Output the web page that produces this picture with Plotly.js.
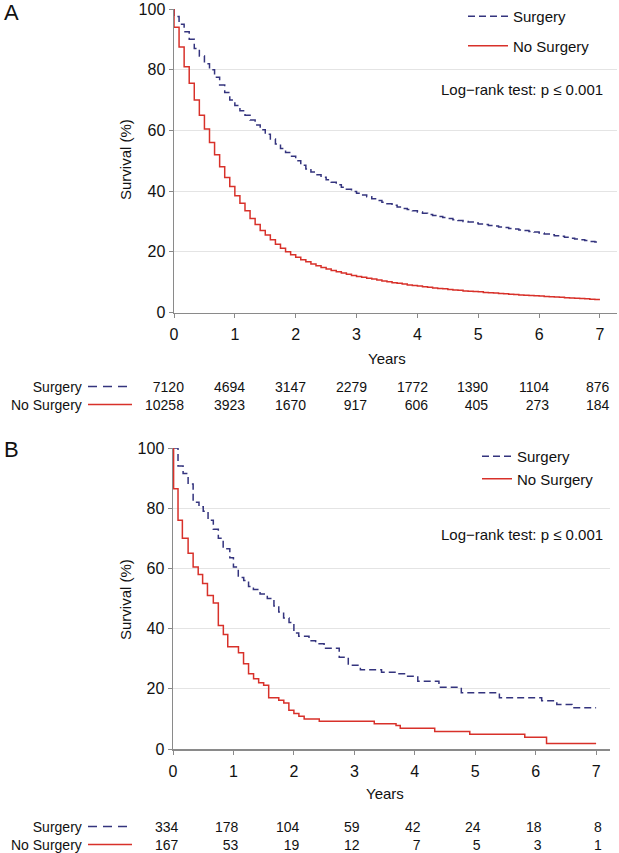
<!DOCTYPE html>
<html>
<head>
<meta charset="utf-8">
<script src="https://cdn.plot.ly/plotly-3.0.1.min.js"></script>
<style>
  body { margin: 0; background: #fff; }
  #km { width: 619px; height: 853px; }
</style>
</head>
<body>
<div id="km"></div>
<script>
// Panel A: monthly KM estimates (%), month 0..84
let survSurgA = [
  100, 97.5, 95, 92.5, 90, 87, 84.5, 82, 80, 77.5, 75, 72.5, 70,
  68.2, 66.5, 65, 63.4, 61.8, 60.2, 58.7, 57.2, 55.5, 54, 52.7, 51.5,
  50, 48.5, 47.3, 46.3, 45.4, 44.6, 43.7, 42.9, 42.1, 41.3, 40.6, 39.9,
  39.3, 38.7, 38.1, 37.5, 36.9, 36.3, 35.8, 35.3, 34.8, 34.3, 33.9, 33.5,
  33.1, 32.7, 32.3, 32, 31.6, 31.3, 31, 30.6, 30.3, 30, 29.8, 29.5,
  29.2, 29, 28.7, 28.5, 28.2, 28, 27.7, 27.5, 27.2, 27, 26.7, 26.5,
  26.2, 25.9, 25.6, 25.3, 25.1, 24.8, 24.5, 24.2, 24, 23.7, 23.4, 23.2
];
let survNoSurgA = [
  100, 94, 87.5, 81, 75.5, 70, 65, 60.5, 56, 52, 48, 44.5, 41.5,
  38.5, 36, 33.5, 31, 29, 27, 25.5, 24, 22.5, 21.2, 20, 19,
  18.2, 17.4, 16.7, 16, 15.4, 14.8, 14.3, 13.8, 13.4, 13, 12.6, 12.2,
  11.9, 11.6, 11.3, 11, 10.7, 10.4, 10.1, 9.8, 9.6, 9.4, 9.1, 8.9,
  8.7, 8.5, 8.3, 8.1, 7.9, 7.8, 7.6, 7.4, 7.3, 7.1, 7, 6.9,
  6.8, 6.6, 6.5, 6.4, 6.3, 6.2, 6, 5.9, 5.8, 5.7, 5.6, 5.5,
  5.4, 5.3, 5.2, 5.1, 5, 4.9, 4.8, 4.7, 4.6, 4.5, 4.4, 4.3
];

// Panel B: event times (years) and survival (%) after each step
let timeSurgB = [0, 0.083, 0.167, 0.25, 0.333, 0.43, 0.5, 0.58, 0.667, 0.75, 0.83, 0.94, 1.0, 1.08,
  1.17, 1.25, 1.33, 1.44, 1.56, 1.67, 1.75, 1.83, 1.92, 2.0, 2.08, 2.25, 2.36, 2.5, 2.75, 2.9,
  3.1, 3.45, 3.7, 3.85, 4.05, 4.4, 4.77, 5.4, 6.1, 6.35, 6.6, 7.0];
let survSurgB = [100, 94, 91.5, 88, 82, 80.5, 79, 76, 73, 70, 66.5, 63.5, 60.5, 57,
  56, 54, 53, 51.5, 50, 47.5, 45.5, 43.5, 42, 38.5, 37.5, 36, 35, 33.5, 30.5, 27.8,
  26.3, 25.5, 25, 24.2, 22.5, 20.5, 18.7, 17, 16, 14.8, 13.7, 13.7];
let timeNoSurgB = [0, 0.01, 0.083, 0.155, 0.25, 0.333, 0.417, 0.49, 0.57, 0.667, 0.75, 0.833, 0.906,
  1.083, 1.167, 1.25, 1.333, 1.417, 1.5, 1.583, 1.75, 1.833, 1.917, 2.0, 2.083, 2.17, 2.42,
  3.33, 3.69, 3.76, 4.33, 4.91, 5.82, 6.18, 7.0];
let survNoSurgB = [100, 86.5, 76, 70, 65, 60.5, 58, 55, 51, 48.5, 41, 38, 34,
  32, 28.3, 25, 23.3, 22, 21.2, 17, 16.2, 15.3, 12.9, 11.8, 10.9, 10, 9.2,
  8.4, 7.8, 6.9, 5.8, 4.9, 3.9, 1.8, 1.8];

// numbers at risk
let yearTicks = [0, 1, 2, 3, 4, 5, 6, 7];
let riskSurgA = [7120, 4694, 3147, 2279, 1772, 1390, 1104, 876];
let riskNoSurgA = [10258, 3923, 1670, 917, 606, 405, 273, 184];
let riskSurgB = [334, 178, 104, 59, 42, 24, 18, 8];
let riskNoSurgB = [167, 53, 19, 12, 7, 5, 3, 1];

const W = 619, H = 853;
const px = (x) => x / W;
const py = (y) => 1 - y / H;

const navy = "#34347e";
const red = "#d8312a";
const fontFam = "Liberation Sans, Arial, Helvetica, sans-serif";
const monthsA = survSurgA.map((v, i) => i / 12);
const riskFont = 14;
const rowGap = riskFont * 1.3;

let data = [
  { x: monthsA, y: survSurgA, name: "Surgery", legend: "legend", legendgroup: "a1",
    mode: "lines", line: { shape: "vh", color: navy, width: 1.5, dash: "7px,4px" }, xaxis: "x", yaxis: "y" },
  { x: monthsA, y: survNoSurgA, name: "No Surgery", legend: "legend", legendgroup: "a2",
    mode: "lines", line: { shape: "vh", color: red, width: 1.5 }, xaxis: "x", yaxis: "y" },
  { x: timeSurgB, y: survSurgB, name: "Surgery", legend: "legend2", legendgroup: "b1",
    mode: "lines", line: { shape: "hv", color: navy, width: 1.5, dash: "7px,4px" }, xaxis: "x2", yaxis: "y2" },
  { x: timeNoSurgB, y: survNoSurgB, name: "No Surgery", legend: "legend2", legendgroup: "b2",
    mode: "lines", line: { shape: "hv", color: red, width: 1.5 }, xaxis: "x2", yaxis: "y2" }
];

function xAxis(dom, rng, anchor) {
  return {
    domain: dom, range: rng, anchor: anchor, tickvals: yearTicks,
    ticks: "outside", ticklen: 4, tickcolor: "#8a8a8a", tickwidth: 1, ticklabelstandoff: 3,
    showline: true, linecolor: "#8a8a8a", linewidth: 1.5,
    showgrid: false, zeroline: false, tickfont: { size: 16 }, fixedrange: true
  };
}
function yAxis(dom, anchor) {
  return {
    domain: dom, range: [0, 100], anchor: anchor, tickvals: [0, 20, 40, 60, 80, 100],
    ticks: "outside", ticklen: 4, tickcolor: "#8a8a8a", tickwidth: 1, ticklabeloverflow: "allow",
    showline: true, linecolor: "#8a8a8a", linewidth: 1.5,
    showgrid: true, gridcolor: "#e4e4e4", gridwidth: 1, zeroline: false,
    tickfont: { size: 16 }, fixedrange: true
  };
}

let annotations = [];
let shapes = [];

function panel(letter, xref, top, yTitleY, yearsY, logY, rowMid, surg, noSurg, off) {
  let row1 = rowMid - rowGap / 2, row2 = rowMid + rowGap / 2;
  annotations.push({ text: letter, xref: "paper", yref: "paper", x: px(2), y: py(top), xanchor: "left", yanchor: "middle",
    showarrow: false, font: { size: 22 } });
  annotations.push({ text: "Survival (%)", xref: "paper", yref: "paper", x: px(125), y: py(yTitleY), textangle: -90,
    xanchor: "center", yanchor: "middle", showarrow: false, font: { size: 15 } });
  annotations.push({ text: "Years", xref: xref, yref: "paper", x: 3.5, y: py(yearsY), xanchor: "center", yanchor: "middle",
    showarrow: false, font: { size: 15 } });
  annotations.push({ text: "Log\u2212rank test: p \u2264 0.001", xref: "paper", yref: "paper", x: px(605), y: py(logY),
    xanchor: "right", yanchor: "middle", showarrow: false, font: { size: 15 } });
  annotations.push({ text: "Surgery<br>No Surgery", xref: "paper", yref: "paper", x: px(84), y: py(rowMid),
    xanchor: "right", yanchor: "middle", align: "right", showarrow: false, font: { size: riskFont } });
  shapes.push({ type: "line", xref: "paper", yref: "paper", x0: px(88), x1: px(132), y0: py(row1), y1: py(row1),
    line: { color: navy, width: 1.5, dash: "9px,6px" } });
  shapes.push({ type: "line", xref: "paper", yref: "paper", x0: px(88), x1: px(132), y0: py(row2), y1: py(row2),
    line: { color: red, width: 1.5 } });
  yearTicks.forEach((t, i) => {
    annotations.push({ text: surg[i] + "<br>" + noSurg[i], xref: xref, yref: "paper", x: t + off, y: py(rowMid),
      xanchor: "right", yanchor: "middle", align: "right", showarrow: false, font: { size: riskFont } });
  });
}

panel("A", "x", 12, 159, 358, 89, 395.5, riskSurgA, riskNoSurgA, 0.2);
panel("B", "x2", 450, 599, 793, 534, 835.5, riskSurgB, riskNoSurgB, 0.13);

let layout = {
  width: W, height: H,
  margin: { l: 0, r: 0, t: 0, b: 0 },
  paper_bgcolor: "#fff", plot_bgcolor: "#fff",
  font: { family: fontFam, size: 15, color: "#111" },
  showlegend: true,
  xaxis: xAxis([px(174), px(617)], [0, 7.28], "y"),
  yaxis: yAxis([py(312.5), py(9)], "x"),
  xaxis2: xAxis([px(173), px(610)], [0, 7.23], "y2"),
  yaxis2: yAxis([py(749), py(448)], "x2"),
  legend: { x: px(463), y: py(0), xanchor: "left", yanchor: "top", bgcolor: "#fff",
    font: { size: 15 }, itemwidth: 40, traceorder: "grouped", tracegroupgap: 7 },
  legend2: { x: px(477), y: py(440), xanchor: "left", yanchor: "top", bgcolor: "#fff",
    font: { size: 15 }, itemwidth: 30, traceorder: "grouped", tracegroupgap: 0 },
  annotations: annotations,
  shapes: shapes
};

Plotly.newPlot("km", data, layout, { displayModeBar: false, staticPlot: true });
</script>
</body>
</html>
